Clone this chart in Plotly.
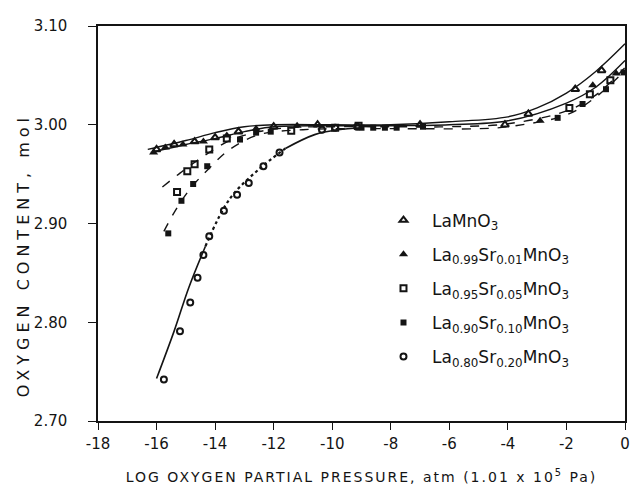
import plotly.graph_objects as go

# ---------------- data ----------------
# measured points
x_la = [-16.0, -15.4, -14.7, -14.0, -13.2, -12.0, -10.5, -7.0, -4.1, -3.3, -1.7, -0.8]
y_la = [2.975, 2.980, 2.983, 2.987, 2.993, 2.998, 3.000, 3.000, 3.000, 3.011, 3.036, 3.055]

x_s01 = [-16.1, -15.7, -15.1, -14.4, -13.6, -12.6, -11.2, -2.9, -1.1, -0.3]
y_s01 = [2.972, 2.977, 2.980, 2.983, 2.989, 2.996, 2.999, 3.004, 3.040, 3.052]

x_s05 = [-15.3, -14.95, -14.7, -14.2, -13.6, -11.4, -9.9, -9.1, -1.9, -1.2, -0.5]
y_s05 = [2.932, 2.953, 2.960, 2.975, 2.986, 2.994, 2.997, 2.999, 3.017, 3.031, 3.045]

x_s10 = [-15.6, -15.15, -14.75, -14.27, -13.15, -12.6, -12.1, -9.0, -8.6, -8.2, -7.8, -6.9, -2.3, -1.45, -0.65, -0.05]
y_s10 = [2.890, 2.923, 2.940, 2.958, 2.985, 2.992, 2.993, 2.997, 2.997, 2.997, 2.997, 2.998, 3.007, 3.021, 3.036, 3.053]

x_s20 = [-15.75, -15.2, -14.85, -14.6, -14.4, -14.2, -13.7, -13.25, -12.85, -12.35, -11.8, -10.35, -9.9, -9.15]
y_s20 = [2.742, 2.791, 2.820, 2.845, 2.868, 2.887, 2.913, 2.929, 2.941, 2.958, 2.972, 2.995, 2.997, 2.998]

# fitted curves
cx_la = [-16.3, -15.0, -14.0, -13.0, -12.0, -10.0, -8.0, -6.0, -4.0, -3.0, -2.0, -1.0, 0.0]
cy_la = [2.975, 2.984, 2.992, 2.998, 3.000, 3.000, 3.000, 3.003, 3.008, 3.017, 3.032, 3.054, 3.082]

cx_s01 = [-16.2, -15.0, -14.0, -13.0, -12.0, -10.0, -8.0, -6.0, -4.0, -2.0, -1.0, 0.0]
cy_s01 = [2.972, 2.980, 2.986, 2.993, 2.998, 2.999, 2.999, 3.000, 3.004, 3.022, 3.038, 3.065]

cx_s05 = [-15.8, -15.2, -14.5, -13.5, -12.5, -11.5, -10.0, -8.0, -6.0, -4.0, -2.0, -1.0, 0.0]
cy_s05 = [2.937, 2.951, 2.966, 2.984, 2.993, 2.997, 2.998, 2.998, 2.998, 3.001, 3.014, 3.030, 3.058]

cx_s10 = [-15.75, -15.3, -14.8, -14.2, -13.5, -12.5, -11.0, -9.0, -7.0, -5.0, -4.0, -2.0, -1.0, 0.0]
cy_s10 = [2.892, 2.916, 2.937, 2.956, 2.975, 2.990, 2.995, 2.996, 2.996, 2.996, 2.998, 3.010, 3.028, 3.055]

cx_s20_a = [-16.0, -15.4, -14.9, -14.33]
cy_s20_a = [2.743, 2.791, 2.835, 2.877]
cx_s20_b = [-14.33, -13.5, -12.5, -11.6]
cy_s20_b = [2.877, 2.925, 2.955, 2.976]
cx_s20_c = [-11.6, -10.6, -9.8, -9.0]
cy_s20_c = [2.976, 2.990, 2.995, 2.997]

names = [
    "LaMnO<sub>3</sub>",
    "La<sub>0.99</sub>Sr<sub>0.01</sub>MnO<sub>3</sub>",
    "La<sub>0.95</sub>Sr<sub>0.05</sub>MnO<sub>3</sub>",
    "La<sub>0.90</sub>Sr<sub>0.10</sub>MnO<sub>3</sub>",
    "La<sub>0.80</sub>Sr<sub>0.20</sub>MnO<sub>3</sub>",
]
x_ticks = [-18, -16, -14, -12, -10, -8, -6, -4, -2, 0]
y_ticks = [2.70, 2.80, 2.90, 3.00, 3.10]
x_title = "LOG OXYGEN PARTIAL PRESSURE, atm (1.01 x 10<sup>5</sup> Pa)"
y_title = "OXYGEN CONTENT, mol"

INK = "#141414"
FONT = "DejaVu Sans"

fig = go.Figure()

def curve(x, y, dash="solid", width=1.4):
    fig.add_trace(go.Scatter(x=x, y=y, mode="lines", showlegend=False,
                             line=dict(color=INK, width=width, dash=dash, shape="spline"),
                             hoverinfo="skip"))

curve(cx_la, cy_la)
curve(cx_s01, cy_s01)
curve(cx_s05, cy_s05, dash="dash")
curve(cx_s10, cy_s10, dash="dash")
curve(cx_s20_a, cy_s20_a, width=1.6)
curve(cx_s20_b, cy_s20_b, dash="dot", width=2.2)
curve(cx_s20_c, cy_s20_c, width=1.6)

series = [
    (x_la, y_la, "triangle-up-open", 7),
    (x_s01, y_s01, "triangle-up", 8),
    (x_s05, y_s05, "square-open", 6),
    (x_s10, y_s10, "square", 6),
    (x_s20, y_s20, "circle-open", 6),
]
for i, (xs, ys, sym, sz) in enumerate(series):
    fig.add_trace(go.Scatter(
        x=xs, y=ys, mode="markers", name=names[i], legendgroup=f"g{i}",
        marker=dict(symbol=sym, size=sz, color=INK,
                    line=dict(color=INK, width=2 if "open" in sym else 0)),
    ))

fig.update_layout(
    width=636, height=490,
    margin=dict(l=98, r=6, t=26, b=69),
    paper_bgcolor="white", plot_bgcolor="white",
    font=dict(family=FONT, color=INK, size=14),
    legend=dict(x=0.5256, y=0.553, xanchor="left", yanchor="top",
                bgcolor="rgba(0,0,0,0)", borderwidth=0, itemwidth=47,
                font=dict(size=17, family=FONT), tracegroupgap=9),
    annotations=[dict(
        text=y_title, textangle=-90, showarrow=False,
        xref="paper", yref="paper", x=-0.143, y=0.42,
        xanchor="center", yanchor="middle",
        font=dict(size=16, family=FONT, color=INK),
    )],
)
fig.update_xaxes(
    range=[-18, 0], tickvals=x_ticks, ticktext=[str(v) for v in x_ticks],
    showgrid=False, zeroline=False, showline=True, linecolor=INK, linewidth=1.5,
    mirror=True, ticks="outside", ticklen=7, tickcolor=INK, tickwidth=1.3,
    tickfont=dict(size=15), ticklabelstandoff=1,
    title=dict(text=x_title, font=dict(size=14), standoff=20),
)
fig.update_yaxes(
    range=[2.70, 3.10], tickvals=y_ticks, ticktext=[f"{v:.2f}" for v in y_ticks],
    showgrid=False, zeroline=False, showline=True, linecolor=INK, linewidth=1.5,
    mirror=True, ticks="outside", ticklen=8, tickcolor=INK, tickwidth=1.3,
    tickfont=dict(size=15), ticklabelstandoff=18,
)

# widen the letter spacing of the axis titles as in the printed original
post = """
var gd = document.getElementById('{plot_id}');
function spaceTitles(){
  gd.querySelectorAll('.g-xtitle text').forEach(function(e){ e.style.letterSpacing = '2px'; });
  gd.querySelectorAll('.annotation-text').forEach(function(e){ e.style.letterSpacing = '5px'; });
}
spaceTitles();
gd.on('plotly_afterplot', spaceTitles);
"""
fig.write_html("out.html", post_script=post)
